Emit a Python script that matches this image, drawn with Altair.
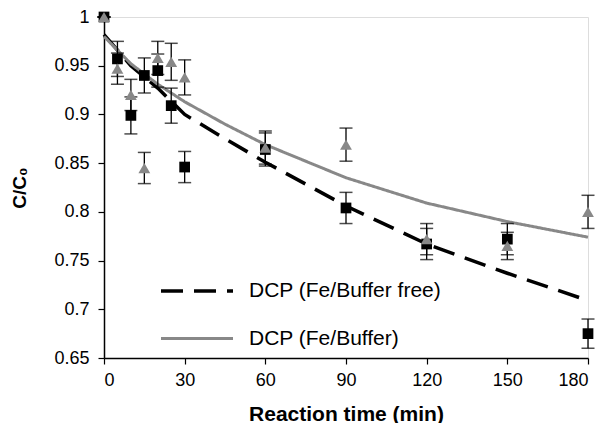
import altair as alt
import pandas as pd

# Measured data: DCP (Fe/Buffer free) - black squares
t_free = [0, 5, 10, 15, 20, 25, 30, 60, 90, 120, 150, 180]
c_free = [1.0, 0.957, 0.899, 0.940, 0.945, 0.909, 0.846, 0.864, 0.804, 0.767, 0.772, 0.675]
e_free = [0.0, 0.018, 0.019, 0.018, 0.017, 0.018, 0.016, 0.017, 0.016, 0.016, 0.016, 0.015]

# Measured data: DCP (Fe/Buffer) - grey triangles
t_buf = [0, 5, 10, 15, 20, 25, 30, 60, 90, 120, 150, 180]
c_buf = [1.0, 0.947, 0.920, 0.845, 0.958, 0.954, 0.938, 0.866, 0.869, 0.772, 0.765, 0.800]
e_buf = [0.0, 0.016, 0.016, 0.016, 0.017, 0.019, 0.018, 0.017, 0.017, 0.016, 0.014, 0.017]

# Model curves
t_curve = [0, 10, 20, 30, 45, 60, 90, 120, 150, 180]
fit_free = [0.982, 0.950, 0.927, 0.900, 0.875, 0.851, 0.806, 0.767, 0.737, 0.709]
fit_buf = [0.980, 0.952, 0.931, 0.913, 0.890, 0.869, 0.835, 0.809, 0.790, 0.774]

series_names = ["DCP (Fe/Buffer free)", "DCP (Fe/Buffer)"]

free_df = pd.DataFrame({"t": t_free, "c": c_free, "e": e_free})
free_df["lo"] = free_df["c"] - free_df["e"]
free_df["hi"] = free_df["c"] + free_df["e"]
buf_df = pd.DataFrame({"t": t_buf, "c": c_buf, "e": e_buf})
buf_df["lo"] = buf_df["c"] - buf_df["e"]
buf_df["hi"] = buf_df["c"] + buf_df["e"]

curve_df = pd.concat([
    pd.DataFrame({"t": t_curve, "c": fit_free, "series": series_names[0]}),
    pd.DataFrame({"t": t_curve, "c": fit_buf, "series": series_names[1]}),
])

FONT = "Liberation Sans"

xscale = alt.Scale(domain=[0, 180], nice=False)
yscale = alt.Scale(domain=[0.65, 1.0], nice=False, zero=False)

xaxis = alt.Axis(values=[0, 30, 60, 90, 120, 150, 180], title="Reaction time (min)",
                 grid=False, domainColor="black", domainWidth=1.5, tickColor="black",
                 tickWidth=1.2, tickSize=6, labelFontSize=18, labelColor="black",
                 labelPadding=7, labelFont=FONT, titleFont=FONT, titleFontSize=21,
                 titleFontWeight="bold", titleColor="black", titlePadding=14)
yaxis = alt.Axis(values=[0.65, 0.7, 0.75, 0.8, 0.85, 0.9, 0.95, 1.0], title="C/C₀",
                 labelExpr="format(datum.value, '~g')",
                 grid=False, domainColor="black", domainWidth=1.5, tickColor="black",
                 tickWidth=1.2, tickSize=6, labelFontSize=18, labelColor="black",
                 labelPadding=9, labelFont=FONT, titleFont=FONT, titleFontSize=19,
                 titleFontWeight="bold", titleColor="black", titlePadding=24)

lines = alt.Chart(curve_df).mark_line().encode(
    x=alt.X("t:Q", scale=xscale, axis=xaxis),
    y=alt.Y("c:Q", scale=yscale, axis=yaxis),
    color=alt.Color("series:N", scale=alt.Scale(domain=series_names, range=["black", "#888888"]),
                    legend=alt.Legend(title=None, orient="none", legendX=55, legendY=236,
                                      symbolType="stroke", symbolSize=5184, labelFontSize=21,
                                      labelFont=FONT, labelColor="black", rowPadding=-33,
                                      labelOffset=14, labelLimit=400)),
    strokeDash=alt.StrokeDash("series:N", scale=alt.Scale(domain=series_names, range=[[22, 11], [1, 0]]),
                              legend=None),
    strokeWidth=alt.StrokeWidth("series:N", scale=alt.Scale(domain=series_names, range=[3.5, 3]),
                                legend=None),
)

def err_layers(df):
    base = alt.Chart(df)
    rule = base.mark_rule(color="black", strokeWidth=1.3).encode(
        x=alt.X("t:Q", scale=xscale), y=alt.Y("lo:Q", scale=yscale), y2="hi:Q")
    cap_lo = base.mark_tick(color="black", thickness=1.5, size=13, orient="horizontal").encode(
        x=alt.X("t:Q", scale=xscale), y=alt.Y("lo:Q", scale=yscale))
    cap_hi = base.mark_tick(color="black", thickness=1.5, size=13, orient="horizontal").encode(
        x=alt.X("t:Q", scale=xscale), y=alt.Y("hi:Q", scale=yscale))
    return [rule, cap_lo, cap_hi]

squares = alt.Chart(free_df).mark_point(shape="square", filled=True, color="black",
                                        size=115, opacity=1).encode(
    x=alt.X("t:Q", scale=xscale), y=alt.Y("c:Q", scale=yscale))
triangles = alt.Chart(buf_df).mark_point(shape="triangle-up", filled=True, color="#888888",
                                         size=140, opacity=1).encode(
    x=alt.X("t:Q", scale=xscale), y=alt.Y("c:Q", scale=yscale))

chart = alt.layer(
    lines, *err_layers(free_df), *err_layers(buf_df), squares, triangles
).properties(
    width=484, height=341,
    autosize=alt.AutoSizeParams(type="none"),
    padding={"left": 96, "top": 9, "right": 16, "bottom": 65},
).configure_view(
    stroke="#9a9a9a", strokeWidth=1.5
).configure(background="white")

chart.save("out.html", embed_options={"renderer": "svg", "actions": False})
